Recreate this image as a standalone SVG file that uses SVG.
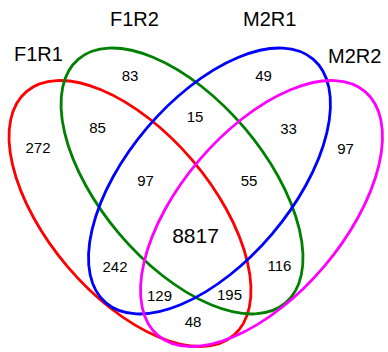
<svg xmlns="http://www.w3.org/2000/svg" width="388" height="352" viewBox="0 0 388 352">
  <style>
    .set { fill: none; stroke-width: 2.8; }
    .title { font-family: "Liberation Sans", Arial, sans-serif; font-size: 20px; fill: #000; }
    .count { font-family: "Liberation Sans", Arial, sans-serif; font-size: 15px; fill: #000; text-anchor: middle; }
    .core { font-size: 21px; }
  </style>
  <rect width="388" height="352" fill="#fff"/>

  <!-- set outlines: four equal ellipses, tilted ±49.65° -->
  <g id="sets">
    <g id="F1R1"><ellipse class="set" stroke="#ff0000" cx="0" cy="0" rx="160" ry="82" transform="translate(130,213.5) rotate(49.65)"/></g>
    <g id="F1R2"><ellipse class="set" stroke="#008000" cx="0" cy="0" rx="160" ry="82" transform="translate(182,181) rotate(49.65)"/></g>
    <g id="M2R1"><ellipse class="set" stroke="#0000ff" cx="0" cy="0" rx="160" ry="82" transform="translate(209.5,181) rotate(-49.65)"/></g>
    <g id="M2R2"><ellipse class="set" stroke="#ff00ff" cx="0" cy="0" rx="160" ry="82" transform="translate(261.5,213.5) rotate(-49.65)"/></g>
  </g>

  <!-- set names -->
  <g id="labels">
    <text class="title" x="14" y="61">F1R1</text>
    <text class="title" x="110" y="26">F1R2</text>
    <text class="title" x="243" y="26">M2R1</text>
    <text class="title" x="328" y="62.5">M2R2</text>
  </g>

  <!-- region counts -->
  <g id="counts">
    <text class="count" x="130" y="81">83</text>
    <text class="count" x="263.5" y="81">49</text>
    <text class="count" x="195" y="122">15</text>
    <text class="count" x="97.5" y="133">85</text>
    <text class="count" x="288.5" y="134">33</text>
    <text class="count" x="38" y="153">272</text>
    <text class="count" x="345.5" y="154">97</text>
    <text class="count" x="145.5" y="186">97</text>
    <text class="count" x="249" y="186">55</text>
    <text class="count core" x="195.5" y="243">8817</text>
    <text class="count" x="115" y="272">242</text>
    <text class="count" x="279.5" y="271">116</text>
    <text class="count" x="159.5" y="301">129</text>
    <text class="count" x="229.5" y="300">195</text>
    <text class="count" x="193" y="327">48</text>
  </g>
</svg>
